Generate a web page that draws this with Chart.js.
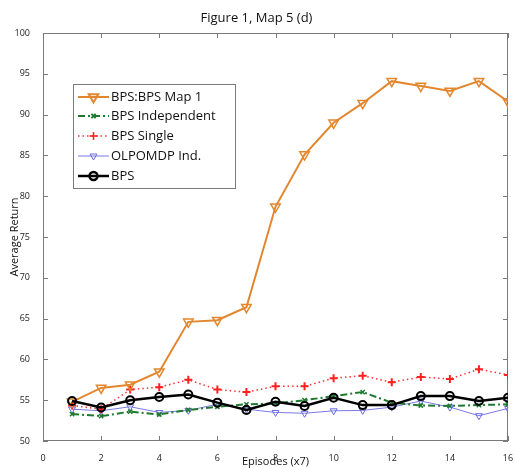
<!DOCTYPE html>
<html>
<head>
<meta charset="utf-8">
<script src="https://cdn.jsdelivr.net/npm/chart.js@4.4.1/dist/chart.umd.min.js"></script>
<style>
  html, body { margin: 0; padding: 0; background: #fff; }
  #wrap { width: 515px; height: 468px; }
</style>
</head>
<body>
<div id="wrap"><canvas id="c" width="515" height="468"></canvas></div>
<script>
const episodes = [1, 2, 3, 4, 5, 6, 7, 8, 9, 10, 11, 12, 13, 14, 15, 16];
const bpsMap1 = [54.8, 56.5, 56.9, 58.5, 64.6, 64.8, 66.4, 78.7, 85.1, 89.0, 91.4, 94.1, 93.5, 92.9, 94.1, 91.6];
const bpsIndependent = [53.3, 53.05, 53.6, 53.25, 53.8, 54.2, 54.5, 54.6, 55.0, 55.5, 56.0, 54.7, 54.35, 54.3, 54.4, 54.5];
const bpsSingle = [54.35, 53.9, 56.3, 56.6, 57.5, 56.3, 56.0, 56.7, 56.7, 57.7, 58.0, 57.2, 57.85, 57.6, 58.8, 58.1];
const olpomdpInd = [53.9, 53.7, 54.2, 53.5, 53.75, 54.5, 53.9, 53.5, 53.4, 53.7, 53.75, 54.15, 54.9, 54.15, 53.1, 54.0];
const bps = [54.9, 54.1, 55.0, 55.4, 55.7, 54.7, 53.8, 54.8, 54.3, 55.3, 54.4, 54.4, 55.5, 55.5, 54.9, 55.3];
const seriesLabels = ['BPS:BPS Map 1', 'BPS Independent', 'BPS Single', 'OLPOMDP Ind.', 'BPS'];
const titleText = 'Figure 1, Map 5 (d)';
const xTitle = 'Episodes (x7)';
const yTitle = 'Average Return';

const FONT = "'Open Sans', 'Liberation Sans', sans-serif";

function pts(vals) { return vals.map((v, i) => ({ x: episodes[i], y: v })); }

const datasets = [
  { label: seriesLabels[0], data: pts(bpsMap1), borderColor: '#e3872f', borderWidth: 2,
    pointStyle: 'triangle', rotation: 180, pointRadius: 5.5, pointBorderWidth: 1.5,
    pointBorderColor: '#e3872f', pointBackgroundColor: 'rgba(0,0,0,0)', order: 1 },
  { label: seriesLabels[1], data: pts(bpsIndependent), borderColor: '#1f7a30', borderWidth: 2,
    borderDash: [7, 3, 2, 3], pointStyle: 'crossRot', pointRadius: 3, pointBorderWidth: 1.5,
    pointBorderColor: '#1f7a30', pointBackgroundColor: 'rgba(0,0,0,0)', order: 4 },
  { label: seriesLabels[2], data: pts(bpsSingle), borderColor: '#ff3030', borderWidth: 1.5,
    borderDash: [1.5, 3], pointStyle: 'cross', pointRadius: 4, pointBorderWidth: 2,
    pointBorderColor: '#ff2020', pointBackgroundColor: 'rgba(0,0,0,0)', order: 3 },
  { label: seriesLabels[3], data: pts(olpomdpInd), borderColor: '#7a7ae6', borderWidth: 1,
    pointStyle: 'triangle', rotation: 180, pointRadius: 4, pointBorderWidth: 1,
    pointBorderColor: '#6a6ae0', pointBackgroundColor: 'rgba(0,0,0,0)', order: 5 },
  { label: seriesLabels[4], data: pts(bps), borderColor: '#000000', borderWidth: 2.5,
    pointStyle: 'circle', pointRadius: 4, pointBorderWidth: 2,
    pointBorderColor: '#000000', pointBackgroundColor: 'rgba(0,0,0,0)', order: 0 }
];

const framePlugin = {
  id: 'frame',
  beforeDatasetsDraw(chart) {
    const { ctx, chartArea: a, scales } = chart;
    ctx.save();
    ctx.strokeStyle = '#7a7a7a';
    ctx.lineWidth = 1;
    ctx.strokeRect(a.left + 0.5, a.top + 0.5, a.right - a.left - 1, a.bottom - a.top - 1);
    const L = 5;
    ctx.beginPath();
    scales.x.ticks.forEach(t => {
      const px = Math.round(scales.x.getPixelForValue(t.value)) + 0.5;
      ctx.moveTo(px, a.bottom); ctx.lineTo(px, a.bottom - L);
      ctx.moveTo(px, a.top); ctx.lineTo(px, a.top + L);
    });
    scales.y.ticks.forEach(t => {
      const py = Math.round(scales.y.getPixelForValue(t.value)) + 0.5;
      ctx.moveTo(a.left, py); ctx.lineTo(a.left + L, py);
      ctx.moveTo(a.right, py); ctx.lineTo(a.right - L, py);
    });
    ctx.stroke();
    ctx.restore();
  }
};

function drawMarker(ctx, ds, x, y) {
  Chart.helpers.drawPoint(ctx, {
    pointStyle: ds.pointStyle, rotation: ds.rotation || 0,
    radius: ds.pointRadius, borderWidth: ds.pointBorderWidth
  }, x, y);
}

const legendPlugin = {
  id: 'customLegend',
  afterDraw(chart) {
    const { ctx } = chart;
    const bx = 73, by = 84, bw = 162, bh = 104;
    ctx.save();
    ctx.fillStyle = '#fff';
    ctx.fillRect(bx, by, bw, bh);
    ctx.strokeStyle = '#7a7a7a';
    ctx.lineWidth = 1;
    ctx.strokeRect(bx + 0.5, by + 0.5, bw, bh);
    const rowY = [97, 116, 136, 156, 176];
    chart.data.datasets.forEach((ds, i) => {
      const y = rowY[i];
      ctx.save();
      ctx.strokeStyle = ds.borderColor;
      ctx.lineWidth = ds.borderWidth;
      ctx.setLineDash(ds.borderDash || []);
      ctx.beginPath();
      ctx.moveTo(78, y); ctx.lineTo(109, y);
      ctx.stroke();
      ctx.setLineDash([]);
      ctx.strokeStyle = ds.pointBorderColor;
      ctx.fillStyle = ds.pointBackgroundColor;
      drawMarker(ctx, ds, 93.5, y);
      ctx.restore();
      ctx.fillStyle = '#111';
      ctx.font = '13px ' + FONT;
      ctx.textBaseline = 'middle';
      ctx.textAlign = 'left';
      ctx.fillText(ds.label, 111, y + 0.5);
    });
    ctx.restore();
  }
};

new Chart(document.getElementById('c'), {
  type: 'line',
  data: { datasets },
  plugins: [framePlugin, legendPlugin],
  options: {
    responsive: false,
    animation: false,
    layout: { padding: { left: 0, right: 2, top: 0, bottom: 0 } },
    plugins: {
      legend: { display: false },
      tooltip: { enabled: false },
      title: {
        display: true, text: titleText, color: '#111',
        font: { family: FONT, size: 13, weight: 'normal' },
        padding: { top: 10, bottom: 7.4 }
      }
    },
    scales: {
      x: {
        type: 'linear', min: 0, max: 16,
        grid: { display: false }, border: { display: false },
        ticks: { stepSize: 2, color: '#222', padding: 4, maxRotation: 0,
                 font: { family: FONT, size: 9 } },
        title: { display: true, text: xTitle, color: '#111', padding: 0,
                 font: { family: FONT, size: 11 } },
        afterFit(s) { s.height = 27; s.paddingLeft = 0; s.paddingRight = 0; }
      },
      y: {
        type: 'linear', min: 50, max: 100,
        grid: { display: false }, border: { display: false },
        ticks: { stepSize: 5, color: '#222', padding: 5,
                 font: { family: FONT, size: 9 } },
        title: { display: true, text: yTitle, color: '#111', padding: { top: 8, bottom: 0 },
                 font: { family: FONT, size: 11 } },
        afterFit(s) { s.width = 43; s.paddingTop = 0; s.paddingBottom = 0; }
      }
    }
  }
});
</script>
</body>
</html>
